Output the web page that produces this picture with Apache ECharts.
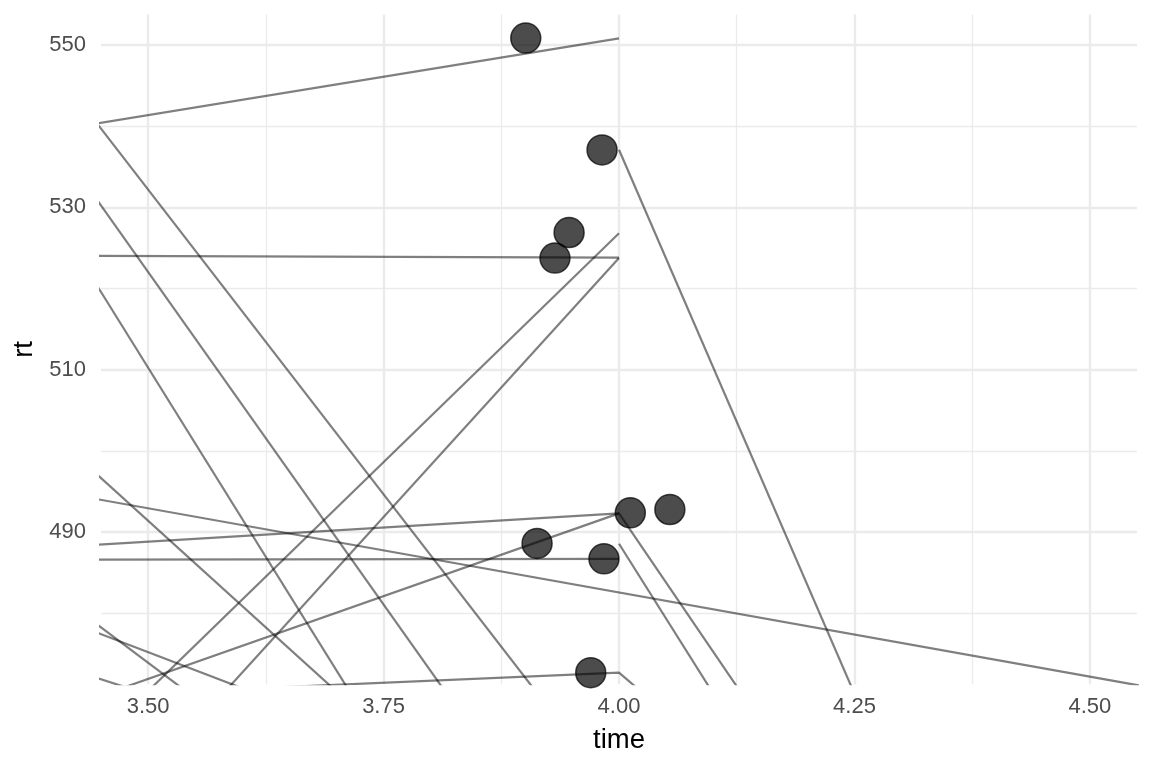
<!DOCTYPE html>
<html><head><meta charset="utf-8">
<script src="https://cdn.jsdelivr.net/npm/echarts@6/dist/echarts.min.js"></script>
<style>html,body{margin:0;padding:0;background:#fff}#chart{width:1152px;height:768px}</style>
</head><body><div id="chart"></div>
<script>
// Axis ticks
const xTicks = [3.5, 3.75, 4.0, 4.25, 4.5];
const xMinorTicks = [3.625, 3.875, 4.125, 4.375];
const yTicks = [490, 510, 530, 550];
const yMinorTicks = [480, 500, 520, 540];

// Subject trajectories: rt at time 3, 4, 5 (null = no observation)
const lineTimes = [3, 4, 5];
const rtTime3 = [531.9, 607.3, 604.0, 603.5, 524.2, 414.0, 396.1, 485.3, 451.5, 486.5, null, null, 544.0, 503.3, 517.5, 497.4, 488.5, 467.7];
const rtTime4 = [550.82, 457.1, 440.1, 417.0, 523.8, 526.8, 523.75, 492.3, 492.3, 486.7, 537.1, 488.55, 438.8, null, 430.3, 453.0, 451.5, 472.67];
const rtTime5 = [null, null, null, null, null, null, null, null, 321.8, null, 269.0, 304.2, null, 461.8, null, null, null, 373.7];

// Jittered points
const pointTime = [3.901, 3.982, 3.947, 3.932, 4.012, 4.054, 3.913, 3.984, 3.970];
const pointRt = [550.86, 537.08, 526.9, 523.75, 492.36, 492.77, 488.6, 486.7, 472.67];

const FONT = "'Liberation Sans', Arial, Helvetica, sans-serif";
const chart = echarts.init(document.getElementById('chart'), null, {renderer: 'canvas'});

const lineSeries = rtTime3.map((_, i) => ({
  type: 'line',
  xAxisIndex: 0, yAxisIndex: 0,
  data: [[lineTimes[0], rtTime3[i]], [lineTimes[1], rtTime4[i]], [lineTimes[2], rtTime5[i]]],
  connectNulls: true,
  showSymbol: false,
  symbol: 'none',
  clip: true,
  silent: true,
  lineStyle: {color: 'rgba(0,0,0,0.5)', width: 2.2},
  z: 2
}));

const pointSeries = {
  type: 'scatter',
  xAxisIndex: 0, yAxisIndex: 0,
  data: pointTime.map((t, i) => [t, pointRt[i]]),
  symbol: 'circle',
  symbolSize: 30,
  clip: true,
  itemStyle: {color: 'rgba(0,0,0,0.7)', borderColor: 'rgba(0,0,0,0.7)', borderWidth: 1.5, opacity: 1},
  z: 3
};

const hidden = {show: false};
const option = {
  animation: false,
  backgroundColor: '#ffffff',
  grid: {left: 101, right: 15, top: 14.6, bottom: 83.8, containLabel: false, outerBoundsMode: 'none'},
  xAxis: [
    {
      type: 'value', min: 3.45, max: 4.55,
      name: 'time', nameLocation: 'middle', nameGap: 42,
      nameTextStyle: {fontFamily: FONT, fontSize: 27.5, color: '#000000'},
      axisLine: hidden,
      axisTick: {show: false, customValues: xTicks},
      axisLabel: {customValues: xTicks, fontFamily: FONT, fontSize: 22, color: '#4d4d4d', margin: 12,
                  formatter: v => Number(v).toFixed(2)},
      splitLine: {show: true, lineStyle: {color: '#ebebeb', width: 2.4}}
    },
    {
      type: 'value', min: 3.45, max: 4.55, gridIndex: 0, position: 'top',
      axisLine: hidden, axisLabel: hidden,
      axisTick: {show: false, customValues: xMinorTicks},
      splitLine: {show: true, lineStyle: {color: '#ebebeb', width: 1.3}}
    }
  ],
  yAxis: [
    {
      type: 'value', min: 471.25, max: 553.75,
      name: 'rt', nameLocation: 'middle', nameGap: 61,
      nameTextStyle: {fontFamily: FONT, fontSize: 27.5, color: '#000000'},
      axisLine: hidden,
      axisTick: {show: false, customValues: yTicks},
      axisLabel: {customValues: yTicks, fontFamily: FONT, fontSize: 22, color: '#4d4d4d', margin: 15},
      splitLine: {show: true, lineStyle: {color: '#ebebeb', width: 2.4}}
    },
    {
      type: 'value', min: 471.25, max: 553.75, gridIndex: 0, position: 'right',
      axisLine: hidden, axisLabel: hidden,
      axisTick: {show: false, customValues: yMinorTicks},
      splitLine: {show: true, lineStyle: {color: '#ebebeb', width: 1.3}}
    }
  ],
  series: [...lineSeries, pointSeries]
};
chart.setOption(option);
</script>
</body></html>
